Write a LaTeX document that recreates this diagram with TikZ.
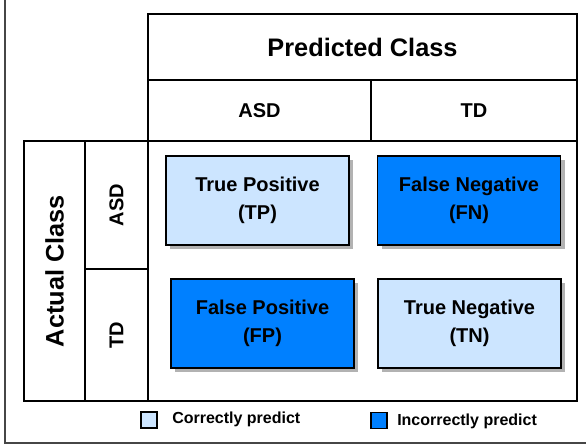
\documentclass[tikz,border=0pt]{standalone}
\usepackage{fontspec}
\setmainfont{Liberation Sans}
\usepackage{tikz}
\usetikzlibrary{shadows}
\definecolor{paleblue}{RGB}{204,229,255}
\definecolor{deepblue}{RGB}{0,128,255}
\definecolor{framegray}{RGB}{70,70,70}
\tikzset{
    cell/.style={draw, line width=1pt, inner sep=0pt, font=\bfseries\fontsize{15}{18}\selectfont},
    title/.style={cell, font=\bfseries\fontsize{19}{22}\selectfont},
    outcome/.style={draw, line width=1pt, align=center, inner sep=0pt,
        minimum width=137.25pt, minimum height=66.75pt,
        drop shadow={shadow xshift=3pt, shadow yshift=-3pt, fill=black!30, opacity=1},
        font=\bfseries\fontsize{15}{21}\selectfont},
    correct/.style={outcome, fill=paleblue},
    wrong/.style={outcome, fill=deepblue},
    swatch/.style={draw, line width=0.9pt, minimum size=12pt, inner sep=0pt},
    legendtext/.style={anchor=west, inner sep=0pt, font=\bfseries\fontsize{12}{14}\selectfont}
}

\begin{document}
\begin{tikzpicture}[x=0.75pt, y=0.75pt]
    \clip (0,0) rectangle (586,445);
    % outer frame, runs off the top and right
    \draw[framegray, line width=1.1pt] (5,2) rectangle (620,480);

    % column headers
    \node[title, minimum width=321.75pt, minimum height=49.5pt] (pred) at (362.5,398) {Predicted Class};
    \node[cell, minimum width=167.25pt, minimum height=45.75pt] (pasd) at (259.5,334.5) {ASD};
    \node[cell, minimum width=154.5pt, minimum height=45.75pt] (ptd) at (474,334.5) {TD};

    % row headers
    \node[title, rotate=90, minimum width=195pt, minimum height=45.75pt] (act) at (54.5,174) {Actual Class};
    \node[cell, rotate=90, minimum width=96pt, minimum height=47.25pt] (aasd) at (116.5,240) {ASD};
    \node[cell, rotate=90, minimum width=99pt, minimum height=47.25pt] (atd) at (116.5,110) {TD};

    % confusion matrix body
    \node[cell, minimum width=321.75pt, minimum height=195pt] (body) at (362.5,174) {};
    \node[correct] (tp) at (257.5,244.5) {True Positive\\(TP)};
    \node[wrong]   (fn) at (469,244.5)   {False Negative\\(FN)};
    \node[wrong]   (fp) at (262.5,121.5) {False Positive\\(FP)};
    \node[correct] (tn) at (469.5,121.5) {True Negative\\(TN)};

    % legend
    \node[swatch, fill=paleblue] (keyok) at (149,25) {};
    \node[legendtext] (keyoktext) at (172,26) {Correctly predict};
    \node[swatch, fill=deepblue] (keybad) at (379,24.5) {};
    \node[legendtext] (keybadtext) at (397,24) {Incorrectly predict};
\end{tikzpicture}
\end{document}
